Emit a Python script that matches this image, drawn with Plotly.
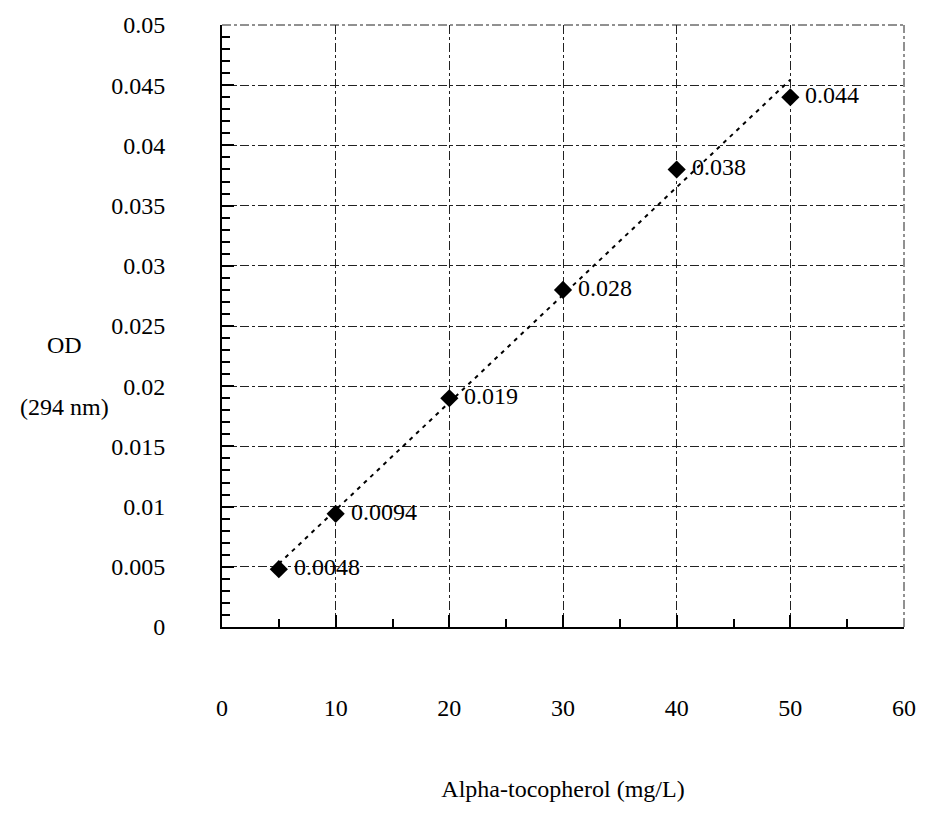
import numpy as np
import plotly.graph_objects as go

conc = [5, 10, 20, 30, 40, 50]
od = [0.0048, 0.0094, 0.019, 0.028, 0.038, 0.044]
labels = ["0.0048", "0.0094", "0.019", "0.028", "0.038", "0.044"]

slope, intercept = np.polyfit(conc, od, 1)
fit_x = [min(conc), max(conc)]
fit_y = [slope * v + intercept for v in fit_x]

FONT = "Liberation Serif"
FS = 24

fig = go.Figure()
fig.add_trace(go.Scatter(
    x=fit_x, y=fit_y, mode="lines",
    line=dict(color="black", width=2, dash="4px,5px"),
    hoverinfo="skip", showlegend=False,
))
fig.add_trace(go.Scatter(
    x=conc, y=od, mode="markers",
    marker=dict(symbol="diamond", size=14, color="black"),
    showlegend=False,
))
for xv, yv, lab in zip(conc, od, labels):
    fig.add_annotation(x=xv, y=yv, text=lab, showarrow=False, xanchor="left",
                       yanchor="middle", xshift=13, yshift=2,
                       font=dict(family=FONT, size=FS, color="black"))

grid = dict(showgrid=True, gridcolor="#222", gridwidth=1, griddash="dashdot")

fig.update_layout(
    width=928, height=828,
    margin=dict(l=222, r=16, t=20, b=201),
    plot_bgcolor="white", paper_bgcolor="white",
    font=dict(family=FONT, size=FS, color="black"),
    xaxis=dict(
        range=[0, 60], dtick=10, tick0=0,
        showline=True, linecolor="black", linewidth=2,
        ticks="inside", ticklen=12, tickwidth=2, tickcolor="black",
        minor=dict(dtick=5, ticks="inside", ticklen=8, tickwidth=2, tickcolor="black", showgrid=False),
        ticklabelstandoff=58,
        zeroline=False,
        title=dict(text="Alpha-tocopherol (mg/L)", standoff=60, font=dict(size=FS)),
        **grid,
    ),
    yaxis=dict(
        range=[0, 0.05], dtick=0.005, tick0=0,
        showline=True, linecolor="black", linewidth=2,
        ticks="inside", ticklen=12, tickwidth=2, tickcolor="black",
        minor=dict(dtick=0.001, ticks="inside", ticklen=8, tickwidth=2, tickcolor="black", showgrid=False),
        ticklabelstandoff=50,
        zeroline=False,
        **grid,
    ),
)

# top and right frame (dash-dot, like the gridlines)
fig.add_shape(type="line", xref="paper", yref="paper", x0=0, x1=1, y0=1, y1=1,
              line=dict(color="#222", width=1, dash="dashdot"))
fig.add_shape(type="line", xref="paper", yref="paper", x0=1, x1=1, y0=0, y1=1,
              line=dict(color="#222", width=1, dash="dashdot"))

fig.add_annotation(text="OD", xref="paper", yref="paper", x=-0.231, y=0.468,
                   showarrow=False, font=dict(family=FONT, size=FS), xanchor="center")
fig.add_annotation(text="(294 nm)", xref="paper", yref="paper", x=-0.231, y=0.366,
                   showarrow=False, font=dict(family=FONT, size=FS), xanchor="center")

fig.write_html("out.html")
